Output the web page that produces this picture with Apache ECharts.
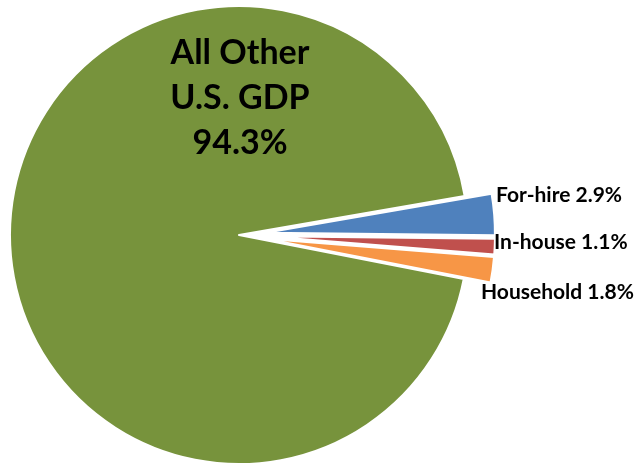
<!DOCTYPE html>
<html>
<head>
<meta charset="utf-8">
<script src="https://cdn.jsdelivr.net/npm/echarts@6/dist/echarts.min.js"></script>
<style>
  html, body { margin: 0; padding: 0; background: #fff; }
  #chart { width: 644px; height: 464px; }
</style>
</head>
<body>
<div id="chart"></div>
<script>
// Shares of U.S. GDP (%)
const categories = ['For-hire', 'In-house', 'Household', 'All Other U.S. GDP'];
const shares = [2.9, 1.1, 1.8, 94.3];
const labelNames = ['For-hire', 'In-house', 'Household', 'All Other\nU.S. GDP'];
const exploded = [true, true, true, false];
const colors = ['#4F81BD', '#C0504D', '#F79646', '#77933C'];

// label anchor points (left edge / middle) for each slice
const labelSpots = [
  { x: 496, y: 195, align: 'left' },
  { x: 494, y: 242, align: 'left' },
  { x: 481, y: 292, align: 'left' },
  { x: 240, y: 98, align: 'center' }
];

const chart = echarts.init(document.getElementById('chart'), null, { renderer: 'canvas' });

const pieBase = {
  type: 'pie',
  center: [239, 235],
  radius: [0, 229],
  startAngle: 9.8,
  clockwise: true,
  avoidLabelOverlap: false,
  emphasis: { disabled: true, scale: false }
};

// Slices, with the three small shares pulled out of the pie
const sliceData = categories.map((c, i) => ({
  name: c,
  value: shares[i],
  selected: exploded[i],
  itemStyle: { color: colors[i] }
}));

// Transparent copy of the pie that only carries the labels
const labelData = categories.map((c, i) => ({
  name: c,
  value: shares[i],
  label: i === 3
    ? { fontSize: 34, lineHeight: 45, align: 'center' }
    : { fontSize: 21 }
}));

chart.setOption({
  animation: false,
  series: [
    Object.assign({}, pieBase, {
      selectedMode: 'multiple',
      selectedOffset: 27,
      itemStyle: { borderColor: '#ffffff', borderWidth: 2 },
      select: { itemStyle: { borderColor: '#ffffff', borderWidth: 2 } },
      label: { show: false },
      labelLine: { show: false },
      data: sliceData
    }),
    Object.assign({}, pieBase, {
      silent: true,
      selectedMode: false,
      itemStyle: { color: 'rgba(0,0,0,0)', borderWidth: 0 },
      label: {
        show: true,
        position: 'inside',
        color: '#000000',
        fontWeight: 'bold',
        fontFamily: 'Lato',
        formatter: p => labelNames[p.dataIndex] + (p.dataIndex === 3 ? '\n' : ' ') + shares[p.dataIndex].toFixed(1) + '%'
      },
      labelLine: { show: false },
      labelLayout: p => {
        const s = labelSpots[p.dataIndex];
        return { x: s.x, y: s.y, align: s.align, verticalAlign: 'middle' };
      },
      data: labelData
    })
  ]
});
</script>
</body>
</html>
